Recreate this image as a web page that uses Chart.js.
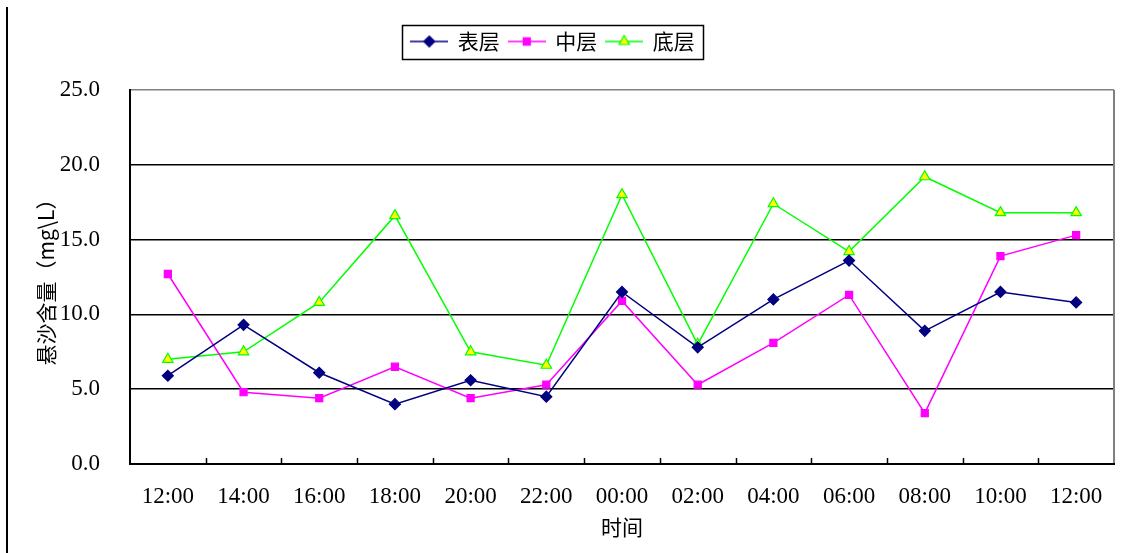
<!DOCTYPE html>
<html>
<head>
<meta charset="utf-8">
<script src="https://cdn.jsdelivr.net/npm/chart.js@4/dist/chart.umd.min.js"></script>
<style>
  html, body { margin: 0; padding: 0; background: #fff; }
  canvas { display: block; }
</style>
</head>
<body>
<canvas id="chart" width="1123" height="553"></canvas>
<script>
// Sampling times (every two hours over a full tidal day)
const times = ['12:00', '14:00', '16:00', '18:00', '20:00', '22:00', '00:00',
               '02:00', '04:00', '06:00', '08:00', '10:00', '12:00'];

// Suspended sediment concentration (mg/L) by layer
const surfaceLayer = [5.9, 9.3, 6.1, 4.0, 5.6, 4.5, 11.5, 7.8, 11.0, 13.6, 8.9, 11.5, 10.8];
const middleLayer  = [12.7, 4.8, 4.4, 6.5, 4.4, 5.3, 10.9, 5.3, 8.1, 11.3, 3.4, 13.9, 15.3];
const bottomLayer  = [7.0, 7.5, 10.8, 16.6, 7.5, 6.6, 18.0, 8.0, 17.4, 14.2, 19.2, 16.8, 16.8];

const seriesNames = ['表层', '中层', '底层'];
const yTicks = [0, 5, 10, 15, 20, 25];

const NAVY = '#000080', MAGENTA = '#FF00FF', GREEN = '#00FF00', YELLOW = '#FFFF00';
const NUM_FONT = "'Liberation Serif', 'Noto Sans CJK SC', serif";
const CJK_FONT = "'Noto Sans CJK SC', sans-serif";

// Legend swatch: a short line segment with the series marker in the middle
function legendIcon(lineColor, style, fill, stroke, radius) {
  const c = document.createElement('canvas');
  c.width = 38; c.height = 16;
  const g = c.getContext('2d');
  g.strokeStyle = lineColor; g.lineWidth = 1.5;
  g.beginPath(); g.moveTo(0, 8); g.lineTo(38, 8); g.stroke();
  g.fillStyle = fill; g.strokeStyle = stroke; g.lineWidth = 1.2;
  Chart.helpers.drawPoint(g, { pointStyle: style, radius: radius, borderWidth: 1.2, rotation: 0 }, 19, 8);
  return c;
}

const seriesStyles = [
  { color: NAVY,    style: 'rectRot',  fill: NAVY,    stroke: NAVY,    radius: 5.5 },
  { color: MAGENTA, style: 'rect',     fill: MAGENTA, stroke: MAGENTA, radius: 5 },
  { color: GREEN,   style: 'triangle', fill: YELLOW,  stroke: GREEN,   radius: 6 }
];
const seriesValues = [surfaceLayer, middleLayer, bottomLayer];

const datasets = seriesNames.map((name, i) => {
  const s = seriesStyles[i];
  return {
    label: name,
    data: seriesValues[i],
    borderColor: s.color,
    borderWidth: 1.5,
    pointStyle: s.style,
    pointRadius: s.radius,
    pointHoverRadius: s.radius,
    pointBackgroundColor: s.fill,
    pointBorderColor: s.stroke,
    pointBorderWidth: 1.2,
    tension: 0,
    fill: false
  };
});

// Extra gap between the legend row and the plot area, and a small
// horizontal nudge of the legend row towards the left
const LEGEND_GAP = 28;
const LEGEND_SHIFT = -9;

// Frame pieces: outer left rule, plot border, inward category ticks, legend box
const framePlugin = {
  id: 'frame',
  afterInit(chart) {
    const lg = chart.legend;
    if (!lg) return;
    const fit = lg.fit.bind(lg);
    lg.fit = function () { fit(); this.height += LEGEND_GAP; };
    const draw = lg.draw.bind(lg);
    lg.draw = function () {
      const ctx = this.ctx;
      ctx.save();
      ctx.translate(LEGEND_SHIFT, 0);
      draw();
      // box round the legend entries
      const boxes = this.legendHitBoxes;
      if (boxes && boxes.length) {
        const l = Math.min(...boxes.map(b => b.left)) - 9;
        const r = Math.max(...boxes.map(b => b.left + b.width)) + 9;
        const t = Math.min(...boxes.map(b => b.top)) - 6;
        const btm = Math.max(...boxes.map(b => b.top + b.height)) + 7;
        ctx.strokeStyle = '#000'; ctx.lineWidth = 1.5;
        ctx.strokeRect(Math.round(l) + 0.5, Math.round(t) + 0.5, Math.round(r - l), Math.round(btm - t));
      }
      ctx.restore();
    };
  },
  afterDraw(chart) {
    const { ctx, chartArea: a, scales: { x } } = chart;
    ctx.save();
    // outer left rule of the figure
    ctx.strokeStyle = '#000'; ctx.lineWidth = 2;
    ctx.beginPath(); ctx.moveTo(7, 7); ctx.lineTo(7, chart.height); ctx.stroke();
    // right border of the plot area
    ctx.strokeStyle = '#808080'; ctx.lineWidth = 2;
    ctx.beginPath(); ctx.moveTo(a.right, a.top); ctx.lineTo(a.right, a.bottom); ctx.stroke();
    // inward tick marks between categories on the x axis
    ctx.strokeStyle = '#000'; ctx.lineWidth = 1.5;
    for (let i = 1; i < times.length; i++) {
      const px = Math.round((x.getPixelForValue(i - 1) + x.getPixelForValue(i)) / 2) + 0.5;
      ctx.beginPath(); ctx.moveTo(px, a.bottom); ctx.lineTo(px, a.bottom - 6); ctx.stroke();
    }
    // bottom axis line
    ctx.lineWidth = 2;
    ctx.beginPath(); ctx.moveTo(a.left - 1, a.bottom); ctx.lineTo(a.right + 1, a.bottom); ctx.stroke();
    ctx.restore();
  }
};

new Chart(document.getElementById('chart'), {
  type: 'line',
  data: { labels: times, datasets: datasets },
  plugins: [framePlugin],
  options: {
    responsive: false,
    animation: false,
    events: [],
    layout: { padding: { left: 10, right: 9, top: 22, bottom: 0 } },
    plugins: {
      tooltip: { enabled: false },
      legend: {
        display: true,
        position: 'top',
        labels: {
          usePointStyle: true,
          pointStyleWidth: 36,
          padding: 9,
          color: '#000',
          font: { family: CJK_FONT, size: 21 },
          generateLabels(chart) {
            return chart.data.datasets.map((ds, i) => {
              const s = seriesStyles[i];
              return {
                text: ds.label,
                pointStyle: legendIcon(s.color, s.style, s.fill, s.stroke, s.radius),
                fillStyle: s.fill, strokeStyle: s.color, lineWidth: 0,
                fontColor: '#000',
                datasetIndex: i, hidden: false
              };
            });
          }
        }
      }
    },
    scales: {
      x: {
        type: 'category',
        offset: true,
        grid: { display: false, offset: true },
        border: { display: false },
        ticks: {
          color: '#000', padding: 11, maxRotation: 0, autoSkip: false,
          font: { family: NUM_FONT, size: 23 }
        },
        title: {
          display: true, text: '时间', color: '#000',
          font: { family: CJK_FONT, size: 21 },
          padding: { top: 0, bottom: 13 }
        },
        afterFit(scale) { scale.height = 89; }
      },
      y: {
        min: 0, max: 25,
        afterBuildTicks(scale) { scale.ticks = yTicks.map(v => ({ value: v })); },
        grid: {
          drawTicks: false,
          color: ctx => (ctx.tick && ctx.tick.value === 25) ? '#808080' : '#000',
          lineWidth: ctx => (ctx.tick && ctx.tick.value === 0) ? 0 : 1.5
        },
        border: { display: true, color: '#000', width: 2 },
        ticks: {
          color: '#000', padding: 30,
          font: { family: NUM_FONT, size: 23 },
          callback: v => Number(v).toFixed(1)
        },
        title: {
          display: true, text: '悬沙含量（mg\\L）', color: '#000',
          font: { family: CJK_FONT, size: 21 },
          padding: { top: 23, bottom: 0 }
        },
        afterFit(scale) { scale.width = 120; }
      }
    }
  }
});
</script>
</body>
</html>
